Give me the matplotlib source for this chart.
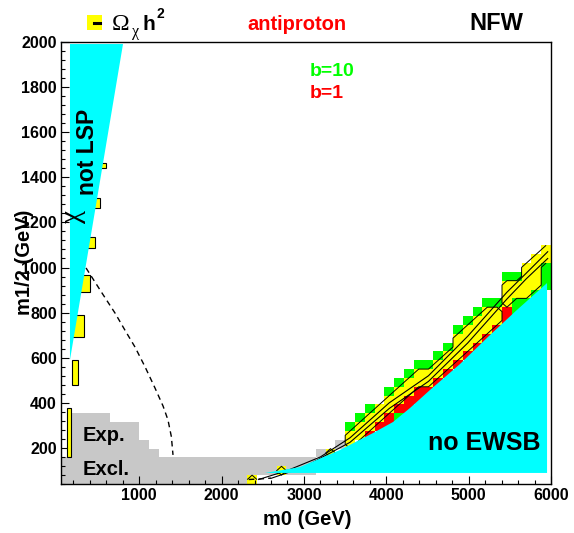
import numpy as np
import matplotlib
matplotlib.use('Agg')
import matplotlib.pyplot as plt
from matplotlib.colors import ListedColormap
from matplotlib.patches import Polygon, Rectangle
from matplotlib.lines import Line2D
from matplotlib.ticker import MultipleLocator, FixedLocator

plt.rcParams['font.family'] = ['Liberation Sans', 'DejaVu Sans']
plt.rcParams['font.weight'] = 'bold'

# ---------------- data ----------------
m0_range = [50, 6000]
m12_range = [40, 2000]
n_bins = 50

# no-EWSB boundary (m0, m1/2)
ewsb_m0 = [2527, 2952, 3438, 3839, 4082, 4288, 4531, 4895, 5260, 5587, 5952]
ewsb_m12 = [89, 115, 191, 266, 315, 377, 457, 572, 701, 812, 931]
ewsb_floor = 89

# chi not LSP wedge
lsp_m0 = [159, 803, 159]
lsp_m12 = [1991, 1991, 590]

# dashed contour
dash_m0 = [354, 420, 560, 706, 830, 949, 1070, 1191, 1290, 1349, 1390, 1410]
dash_m12 = [998, 960, 880, 798, 720, 647, 560, 466, 385, 324, 250, 169]
dash2_m0 = [2330, 2450, 2600]
dash2_m12 = [60, 62, 66]

# relic-density contour lines through the band
relicA_m0 = [2450, 2800, 3200, 3560, 4036, 4512, 4988, 5464, 5700, 5960]
relicA_m12 = [60, 100, 160, 245, 400, 520, 695, 890, 975, 1070]
relicB_m0 = [2600, 3000, 3560, 4036, 4512, 4988, 5464, 5700, 5960]
relicB_m12 = [65, 115, 225, 375, 495, 665, 860, 950, 1040]

# experimental exclusion: per m0-bin (cols 0..25) lowest / highest row
gray_bot = [0, 0, 0, 0, 0, 0, 0, 0, 0, 0, 0, 0, 0, 0, 0, 0, 0, 0, 0, 1, 1, 1, 1, 1, 1, 1]
gray_top = [2, 7, 7, 7, 7, 6, 6, 6, 4, 3, 2, 2, 2, 2, 2, 2, 2, 2, 2, 2, 2, 2, 2, 2, 2, 2]
gray_extra = [(26, 3), (28, 4)]

# band along no-EWSB boundary: per column (row ranges, -1 = none)
band_col  = [27, 28, 29, 30, 31, 32, 33, 34, 35, 36, 37, 38, 39, 40, 41, 42, 43, 44, 45, 46, 47, 48, 49]
green_lo  = [-1, -1,  5,  5,  5,  6,  6,  7,  8,  9, 10, 11, 12, 13, 14, 15, 16, 17, 18, 19, 20, 21, 22]
green_hi  = [-1, -1,  6,  7,  8,  8, 10, 11, 12, 13, 13, 14, 15, 17, 18, 19, 20, 20, 23, 23, 24, 25, 26]
red_lo    = [-1, -1, -1, -1,  5,  6,  6,  8,  8,  9, 10, 11, 12, 13, 14, 15, 16, 17, 18, -1, -1, -1, -1]
red_hi    = [-1, -1, -1, -1,  5,  6,  7,  8,  9, 10, 10, 12, 12, 13, 14, 15, 16, 17, 19, -1, -1, -1, -1]
yel_lo    = [ 3, -1,  4,  5,  6,  7,  8,  9, 10, 11, 11, 12, 13, 14, 15, 16, 17, 18, 20, 21, 21, 22, 25]
yel_hi    = [ 3, -1,  5,  6,  7,  8,  9, 10, 11, 12, 12, 13, 14, 16, 17, 18, 19, 19, 22, 22, 24, 25, 26]

# small yellow cells at the bottom (col, row)
yel_cells = [(19, 0), (22, 1)]

# yellow slivers beside the chi-not-LSP wedge (m0_lo, m0_hi, m12_lo, m12_hi)
sliver_m0_lo = [123, 184, 256, 341, 402, 487, 560]
sliver_m0_hi = [171, 256, 329, 402, 463, 524, 596]
sliver_m12_lo = [160, 479, 692, 891, 1086, 1264, 1441]
sliver_m12_hi = [377, 590, 789, 967, 1135, 1308, 1463]

x_ticks = [1000, 2000, 3000, 4000, 5000, 6000]
y_ticks = [200, 400, 600, 800, 1000, 1200, 1400, 1600, 1800, 2000]

C_GRAY, C_GREEN, C_RED, C_YEL, C_CYAN = '#c8c8c8', '#00ff00', '#ff0000', '#ffff00', '#00ffff'

# ---------------- figure ----------------
W, H = 574, 533
fig = plt.figure(figsize=(W / 100, H / 100), dpi=100)
ax = fig.add_axes([61 / W, 49 / H, 490 / W, 442 / H])

xe = np.linspace(m0_range[0], m0_range[1], n_bins + 1)
ye = np.linspace(m12_range[0], m12_range[1], n_bins + 1)
xc = 0.5 * (xe[1:] + xe[:-1])
yc = 0.5 * (ye[1:] + ye[:-1])

grid = np.zeros((n_bins, n_bins))
for c, (b, t) in enumerate(zip(gray_bot, gray_top)):
    grid[b:t + 1, c] = 1
for c, r in gray_extra:
    grid[r, c] = 1
for k, c in enumerate(band_col):
    if green_lo[k] >= 0:
        grid[green_lo[k]:green_hi[k] + 1, c] = 2
    if red_lo[k] >= 0:
        grid[red_lo[k]:red_hi[k] + 1, c] = 3
    if yel_lo[k] >= 0:
        grid[yel_lo[k]:yel_hi[k] + 1, c] = 4
for c, r in yel_cells:
    grid[r, c] = 4

cmap = ListedColormap([C_GRAY, C_GREEN, C_RED, C_YEL])
ax.pcolormesh(xe, ye, np.ma.masked_equal(grid, 0), cmap=cmap, vmin=0.5, vmax=4.5,
              zorder=1, antialiased=False)
ax.contour(xc, yc, (grid == 4).astype(float), levels=[0.5], colors='k',
           linewidths=0.7, zorder=2)
ax.plot(relicA_m0, relicA_m12, color='k', lw=0.8, zorder=2.5)
ax.plot(relicB_m0, relicB_m12, color='k', lw=0.8, zorder=2.5)

for x0, x1, y0, y1 in zip(sliver_m0_lo, sliver_m0_hi, sliver_m12_lo, sliver_m12_hi):
    ext = 70 if y0 > lsp_m12[2] else 0   # hide left edge under the wedge
    ax.add_patch(Rectangle((x0 - ext, y0), x1 - x0 + ext, y1 - y0, facecolor=C_YEL,
                           edgecolor='k', lw=0.8, zorder=2))

ewsb_pts = list(zip(ewsb_m0, ewsb_m12)) + [(ewsb_m0[-1], ewsb_floor)]
ax.add_patch(Polygon(ewsb_pts, closed=True, facecolor=C_CYAN, edgecolor='none', zorder=3))
ax.add_patch(Polygon(list(zip(lsp_m0, lsp_m12)), closed=True, facecolor=C_CYAN,
                     edgecolor='none', zorder=3))

ax.plot(dash_m0, dash_m12, color='k', ls=(0, (4, 3)), lw=1.0, zorder=4)
ax.plot(dash2_m0, dash2_m12, color='k', ls=(0, (4, 3)), lw=1.0, zorder=4)

ax.set_xlim(*m0_range)
ax.set_ylim(*m12_range)
ax.xaxis.set_major_locator(FixedLocator(x_ticks))
ax.yaxis.set_major_locator(FixedLocator(y_ticks))
ax.xaxis.set_minor_locator(MultipleLocator(200))
ax.yaxis.set_minor_locator(MultipleLocator(40))
ax.tick_params(which='major', direction='in', length=6, width=0.8, labelsize=11.5, pad=3)
ax.tick_params(which='minor', direction='in', length=3, width=0.8)
ax.tick_params(top=False, right=False, which='both')
for lab in ax.get_xticklabels() + ax.get_yticklabels():
    lab.set_fontweight('bold')
for s in ax.spines.values():
    s.set_linewidth(1.0)
    s.set_zorder(5)


def fx(x):
    return x / W


def fy(y):
    return 1 - y / H


# axis titles
fig.text(fx(307), fy(525), 'm0 (GeV)', ha='center', va='baseline', fontsize=14.5,
         fontweight='bold')
fig.text(fx(30), fy(262), 'm1/2 (GeV)', ha='center', va='baseline', rotation=90,
         rotation_mode='anchor', fontsize=14.5, fontweight='bold')

# header
fig.patches.append(Rectangle((fx(87), fy(30)), 15 / W, 15 / H, transform=fig.transFigure,
                             facecolor=C_YEL, edgecolor='none'))
fig.lines.append(Line2D([fx(94), fx(100)], [fy(23), fy(23)], transform=fig.transFigure,
                        color='k', lw=2.2))
fig.text(fx(112), fy(30), 'Ω', fontsize=17, family='Liberation Serif',
         fontweight='normal', va='baseline')
fig.text(fx(132), fy(36), 'χ', fontsize=11.5, family='Liberation Serif',
         fontweight='normal', va='baseline')
fig.text(fx(143), fy(30), 'h', fontsize=15, fontweight='bold', va='baseline')
fig.text(fx(157), fy(18), '2', fontsize=10, fontweight='bold', va='baseline')
fig.text(fx(247), fy(30), 'antiproton', fontsize=14.5, color=C_RED, fontweight='bold',
         va='baseline')
fig.text(fx(469), fy(30), 'NFW', fontsize=17, color='k', fontweight='bold', va='baseline')
fig.text(fx(310), fy(76), 'b=10', fontsize=14, color=C_GREEN, fontweight='bold',
         va='baseline')
fig.text(fx(310), fy(98), 'b=1', fontsize=14, color=C_RED, fontweight='bold',
         va='baseline')

# region labels
fig.text(fx(94), fy(195), 'not LSP', rotation=90, rotation_mode='anchor', ha='left',
         va='baseline', fontsize=16.5, fontweight='bold')
fig.text(fx(80), fy(223), 'χ', rotation=90, rotation_mode='anchor', ha='left',
         va='baseline', fontsize=21, family='Liberation Serif', fontweight='normal')
fig.text(fx(83), fy(441), 'Exp.', fontsize=14.5, fontweight='bold', va='baseline')
fig.text(fx(83), fy(475), 'Excl.', fontsize=14.5, fontweight='bold', va='baseline')
fig.text(fx(428), fy(450), 'no EWSB', fontsize=18, fontweight='bold', va='baseline')

fig.savefig('out.png', dpi=100)
